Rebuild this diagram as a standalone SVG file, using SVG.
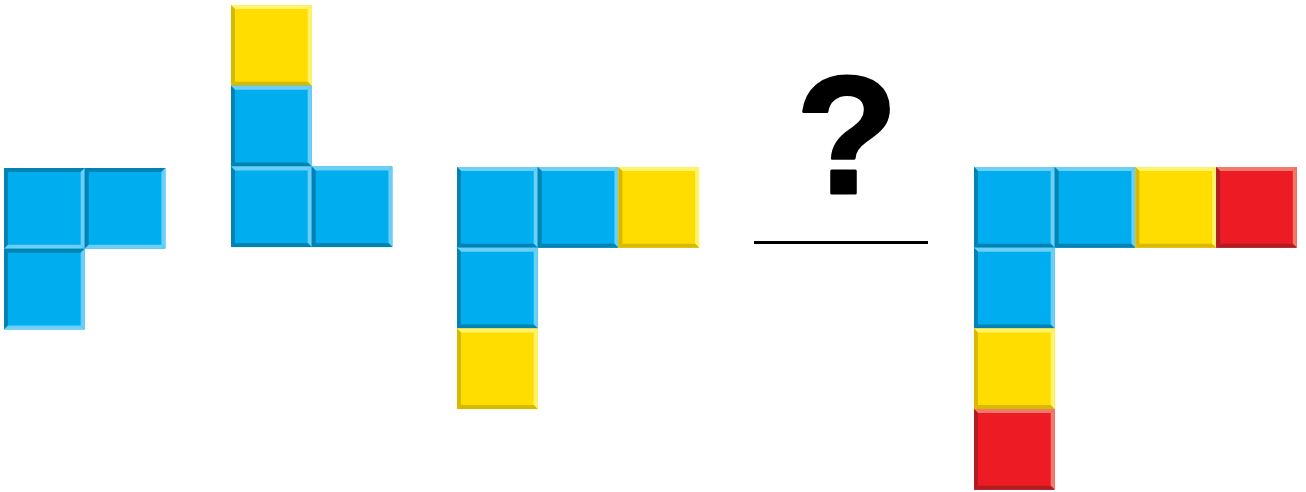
<svg xmlns="http://www.w3.org/2000/svg" xmlns:xlink="http://www.w3.org/1999/xlink" width="1306" height="492" viewBox="0 0 1306 492">
  <style>
    .bf{fill:#00AEEF}.bl{fill:#6DCFF6}.bd{fill:#0082B2}
    .yf{fill:#FFDD00}.yl{fill:#FFF36B}.yd{fill:#D6B900}
    .rf{fill:#ED1C24}.rl{fill:#F37A69}.rd{fill:#B11B22}
    .q{font-family:"Liberation Sans",Arial,sans-serif;font-weight:bold;font-size:167px;fill:#000;stroke:#000;stroke-width:3;stroke-linejoin:round}
  </style>
  <defs>
    <polygon id="pt" points="0,0 80.7,0 76.7,4 4,4"/>
    <polygon id="pr" points="80.7,0 80.7,80.7 76.7,76.7 76.7,4"/>
    <polygon id="pb" points="0,80.7 80.7,80.7 76.7,76.7 4,76.7"/>
    <polygon id="pl" points="0,0 4,4 4,76.7 0,80.7"/>
    <g id="blue">
      <rect class="bf" width="80.7" height="80.7"/>
      <use xlink:href="#pt" class="bl"/><use xlink:href="#pr" class="bl"/>
      <use xlink:href="#pb" class="bd"/><use xlink:href="#pl" class="bd"/>
    </g>
    <g id="blue1">
      <rect class="bf" width="80.7" height="80.7"/>
      <use xlink:href="#pt" class="bd"/><use xlink:href="#pl" class="bd"/>
      <use xlink:href="#pr" class="bl"/><use xlink:href="#pb" class="bl"/>
    </g>
    <g id="yellow">
      <rect class="yf" width="80.7" height="80.7"/>
      <use xlink:href="#pt" class="yl"/><use xlink:href="#pr" class="yl"/>
      <use xlink:href="#pb" class="yd"/><use xlink:href="#pl" class="yd"/>
    </g>
    <g id="red">
      <rect class="rf" width="80.7" height="80.7"/>
      <use xlink:href="#pt" class="rl"/><use xlink:href="#pr" class="rl"/>
      <use xlink:href="#pb" class="rd"/><use xlink:href="#pl" class="rd"/>
    </g>
  </defs>
  <rect width="1306" height="492" fill="#fff"/>
  <g id="figure1">
    <use xlink:href="#blue1" x="4" y="168"/>
    <use xlink:href="#blue1" x="84.7" y="168"/>
    <use xlink:href="#blue1" x="4" y="248.7"/>
  </g>
  <g id="figure2">
    <use xlink:href="#yellow" x="231" y="5"/>
    <use xlink:href="#blue" x="231" y="85.7"/>
    <use xlink:href="#blue" x="231" y="166.4"/>
    <use xlink:href="#blue" x="311.7" y="166.4"/>
  </g>
  <g id="figure3">
    <use xlink:href="#blue" x="457" y="167"/>
    <use xlink:href="#blue" x="537.7" y="167"/>
    <use xlink:href="#yellow" x="618.4" y="167"/>
    <use xlink:href="#blue" x="457" y="247.7"/>
    <use xlink:href="#yellow" x="457" y="328.4"/>
  </g>
  <g id="question">
    <text class="q" x="847" y="193" text-anchor="middle">?</text>
    <line x1="754" y1="242.5" x2="928" y2="242.5" stroke="#000" stroke-width="3"/>
  </g>
  <g id="figure5">
    <use xlink:href="#blue" x="974" y="167"/>
    <use xlink:href="#blue" x="1054.7" y="167"/>
    <use xlink:href="#yellow" x="1135.4" y="167"/>
    <use xlink:href="#red" x="1216.1" y="167"/>
    <use xlink:href="#blue" x="974" y="247.7"/>
    <use xlink:href="#yellow" x="974" y="328.4"/>
    <use xlink:href="#red" x="974" y="409.1"/>
  </g>
  <g id="connectors"/>
</svg>
